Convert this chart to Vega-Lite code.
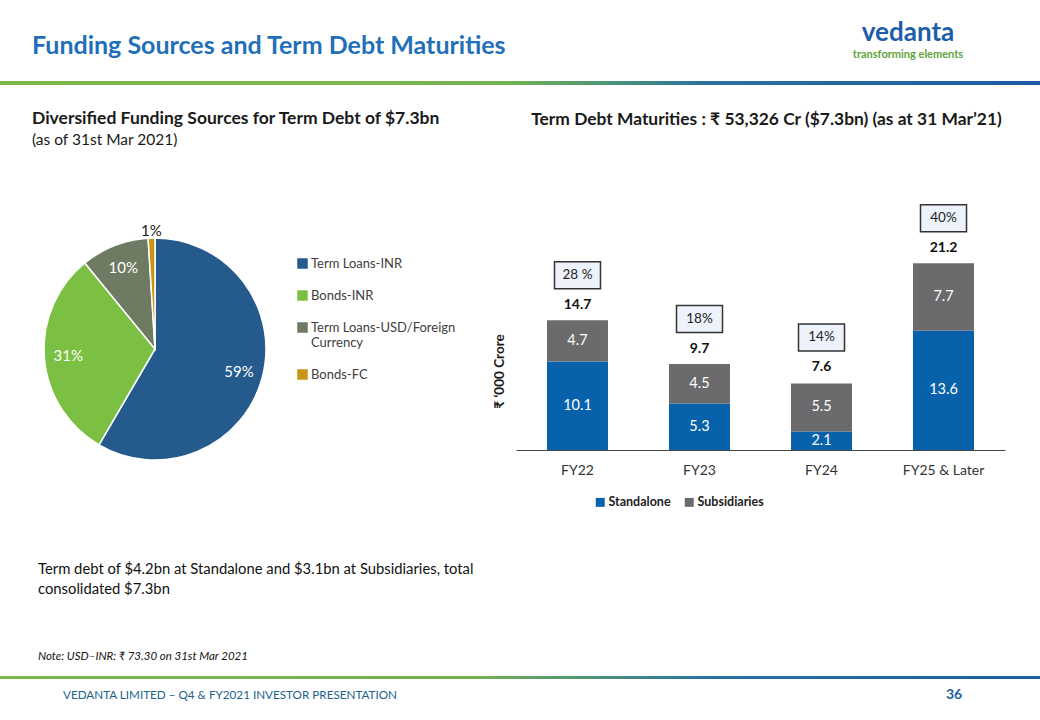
{
  "$schema": "https://vega.github.io/schema/vega-lite/v6.json",
  "background": "white",
  "padding": {"top": 20, "left": 0, "right": 0, "bottom": 0},
  "config": {
    "font": "Lato, 'Noto Sans', 'DejaVu Sans', sans-serif",
    "view": {"stroke": null},
    "title": {"font": "Lato, 'Noto Sans', 'DejaVu Sans', sans-serif"}
  },
  "spacing": 8,
  "resolve": {"scale": {"color": "independent"}, "legend": {"color": "independent"}},
  "vconcat": [
    {
      "spacing": 52,
      "resolve": {"scale": {"color": "independent"}, "legend": {"color": "independent"}},
      "vconcat": [
        {
          "spacing": 25,
          "resolve": {"scale": {"color": "independent"}, "legend": {"color": "independent"}},
          "vconcat": [
            {
              "hconcat": [
                {
                  "width": 760,
                  "height": 4,
                  "data": {"values": [{"k": 1}]},
                  "title": {"text": "Funding Sources and Term Debt Maturities", "anchor": "start", "dx": 32, "fontSize": 25, "fontWeight": "bold", "color": "#1f70b8", "offset": 22},
                  "mark": {"type": "rect", "fill": {"gradient": "linear", "x1": 0, "y1": 0, "x2": 1, "y2": 0, "stops": [{"offset": 0, "color": "#7cb94a"}, {"offset": 0.657, "color": "#76b450"}, {"offset": 0.794, "color": "#4f9775"}, {"offset": 0.93, "color": "#2b70a0"}, {"offset": 1, "color": "#286da0"}]}},
                  "encoding": {"x": {"value": 0}, "x2": {"value": "width"}, "y": {"value": 0}, "y2": {"value": "height"}}
                },
                {
                  "width": 280,
                  "height": 4,
                  "data": {"values": [{"k": 1}]},
                  "title": {"text": "vedanta", "subtitle": "transforming elements", "anchor": "middle", "dx": 8, "fontSize": 26, "fontWeight": "bold", "color": "#1d5ea6", "subtitleFontSize": 11, "subtitleFontWeight": "bold", "subtitleColor": "#5ea33a", "subtitlePadding": 3, "offset": 21},
                  "mark": {"type": "rect", "fill": {"gradient": "linear", "x1": 0, "y1": 0, "x2": 1, "y2": 0, "stops": [{"offset": 0, "color": "#286da0"}, {"offset": 1, "color": "#1b5ca2"}]}},
                  "encoding": {"x": {"value": 0}, "x2": {"value": "width"}, "y": {"value": 0}, "y2": {"value": "height"}}
                }
              ],
              "spacing": 0,
              "bounds": "flush"
            },
            {
              "resolve": {"scale": {"color": "independent"}, "legend": {"color": "independent"}},
              "hconcat": [
                {
                  "width": 310,
                  "height": 294,
                  "title": {"text": "Diversified Funding Sources for Term Debt of $7.3bn", "subtitle": "(as of 31st Mar 2021)", "anchor": "start", "dx": 32, "fontSize": 17.5, "fontWeight": "bold", "color": "#1a1a1a", "subtitleFontSize": 15.5, "subtitleColor": "#1a1a1a", "subtitlePadding": 5, "offset": 54},
                  "data": {"values": [
                    {"source": "Term Loans-INR", "pct": 59, "label": "59%"},
                    {"source": "Bonds-INR", "pct": 31, "label": "31%"},
                    {"source": "Term Loans-USD/Foreign Currency", "pct": 10, "label": "10%"},
                    {"source": "Bonds-FC", "pct": 1, "label": "1%"}
                  ]},
                  "encoding": {
                    "theta": {"field": "pct", "type": "quantitative", "stack": true},
                    "order": {"field": "pct", "sort": "descending"}
                  },
                  "layer": [
                    {
                      "mark": {"type": "arc", "outerRadius": 111, "stroke": "white", "strokeWidth": 1.5},
                      "encoding": {
                        "color": {
                          "field": "source", "type": "nominal",
                          "scale": {"domain": ["Term Loans-INR", "Bonds-INR", "Term Loans-USD/Foreign Currency", "Bonds-FC"], "range": ["#245a8c", "#7bc043", "#6e7a62", "#c99517"]},
                          "legend": {"orient": "none", "legendX": 296, "legendY": 55, "title": null, "symbolType": "square", "symbolSize": 110, "symbolStrokeWidth": 0, "labelFontSize": 13, "labelColor": "#404040", "rowPadding": 18, "labelOffset": 2, "padding": 0, "labelLimit": 220,
                            "labelExpr": "datum.label == 'Term Loans-USD/Foreign Currency' ? ['Term Loans-USD/Foreign', 'Currency'] : datum.label"}
                        }
                      }
                    },
                    {
                      "mark": {"type": "text", "radius": 87, "fontSize": 15, "fill": "white"},
                      "encoding": {
                        "text": {"field": "label"},
                        "opacity": {"condition": {"test": "datum.pct < 5", "value": 0}, "value": 1}
                      }
                    },
                    {
                      "mark": {"type": "text", "radius": 118, "fontSize": 15, "fill": "#1a1a1a"},
                      "encoding": {
                        "text": {"field": "label"},
                        "opacity": {"condition": {"test": "datum.pct < 5", "value": 1}, "value": 0}
                      }
                    }
                  ]
                },
                {
                  "width": 489,
                  "height": 248,
                  "title": {"text": "Term Debt Maturities : ₹ 53,326 Cr ($7.3bn) (as at 31 Mar’21)", "anchor": "middle", "dx": 6, "fontSize": 17.4, "fontWeight": "bold", "color": "#1a1a1a", "offset": 73},
                  "data": {"values": [
                    {"year": "FY22", "entity": "Standalone", "value": 10.1},
                    {"year": "FY22", "entity": "Subsidiaries", "value": 4.7},
                    {"year": "FY23", "entity": "Standalone", "value": 5.3},
                    {"year": "FY23", "entity": "Subsidiaries", "value": 4.5},
                    {"year": "FY24", "entity": "Standalone", "value": 2.1},
                    {"year": "FY24", "entity": "Subsidiaries", "value": 5.5},
                    {"year": "FY25 & Later", "entity": "Standalone", "value": 13.6},
                    {"year": "FY25 & Later", "entity": "Subsidiaries", "value": 7.7}
                  ]},
                  "encoding": {
                    "x": {"field": "year", "type": "nominal", "sort": null, "title": null,
                      "scale": {"paddingInner": 0.5, "paddingOuter": 0.254},
                      "axis": {"labelAngle": 0, "labelFontSize": 14, "labelColor": "#333", "ticks": false, "labelPadding": 13, "domainColor": "#444", "domainWidth": 1.2}}
                  },
                  "layer": [
                    {
                      "mark": {"type": "bar"},
                      "encoding": {
                        "y": {"field": "value", "type": "quantitative", "stack": "zero", "scale": {"domain": [0, 28.3], "nice": false}, "axis": {"title": "₹ ‘000 Crore", "labels": false, "ticks": false, "domain": false, "grid": false, "titleFontSize": 13.5, "titleFontWeight": "bold", "titleColor": "#1a1a1a", "titlePadding": 10, "titleY": 169}},
                        "color": {"field": "entity", "type": "nominal",
                          "scale": {"domain": ["Standalone", "Subsidiaries"], "range": ["#0862ab", "#6b6b6d"]},
                          "legend": {"orient": "none", "legendX": 78, "legendY": 294, "direction": "horizontal", "title": null, "symbolType": "square", "symbolSize": 80, "symbolStrokeWidth": 0, "labelFontSize": 12.5, "labelFontWeight": "bold", "labelColor": "#222", "columnPadding": 12, "labelOffset": 2, "padding": 0}},
                        "order": {"field": "entity", "sort": "ascending"}
                      }
                    },
                    {
                      "transform": [
                        {"stack": "value", "groupby": ["year"], "sort": [{"field": "entity", "order": "ascending"}], "as": ["v0", "v1"]},
                        {"calculate": "(datum.v0 + datum.v1) / 2", "as": "mid"}
                      ],
                      "mark": {"type": "text", "fontSize": 14.5, "fill": "white", "baseline": "middle"},
                      "encoding": {
                        "y": {"field": "mid", "type": "quantitative", "scale": {"domain": [0, 28.3], "nice": false}, "axis": {"title": "₹ ‘000 Crore", "labels": false, "ticks": false, "domain": false, "grid": false, "titleFontSize": 13.5, "titleFontWeight": "bold", "titleColor": "#1a1a1a", "titlePadding": 10, "titleY": 169}},
                        "text": {"field": "value", "type": "quantitative", "format": ".1f"}
                      }
                    },
                    {
                      "data": {"values": [
                        {"year": "FY22", "value": 14.7, "share": "28 %"},
                        {"year": "FY23", "value": 9.7, "share": "18%"},
                        {"year": "FY24", "value": 7.6, "share": "14%"},
                        {"year": "FY25 & Later", "value": 21.2, "share": "40%"}
                      ]},
                      "layer": [
                        {
                          "mark": {"type": "text", "fontSize": 14, "fontWeight": "bold", "fill": "#111", "baseline": "middle", "dy": -16},
                          "encoding": {
                            "y": {"field": "value", "type": "quantitative", "stack": null, "scale": {"domain": [0, 28.3], "nice": false}, "axis": {"title": "₹ ‘000 Crore", "labels": false, "ticks": false, "domain": false, "grid": false, "titleFontSize": 13.5, "titleFontWeight": "bold", "titleColor": "#1a1a1a", "titlePadding": 10, "titleY": 169}},
                            "text": {"field": "value", "type": "quantitative", "format": ".1f"}
                          }
                        },
                        {
                          "mark": {"type": "point", "shape": "M-1,-0.587L1,-0.587L1,0.587L-1,0.587Z", "size": 2116, "filled": true, "fill": "#eef2fb", "stroke": "#333", "strokeWidth": 1.5, "opacity": 1, "yOffset": -46},
                          "encoding": {
                            "y": {"field": "value", "type": "quantitative", "stack": null, "scale": {"domain": [0, 28.3], "nice": false}, "axis": {"title": "₹ ‘000 Crore", "labels": false, "ticks": false, "domain": false, "grid": false, "titleFontSize": 13.5, "titleFontWeight": "bold", "titleColor": "#1a1a1a", "titlePadding": 10, "titleY": 169}}
                          }
                        },
                        {
                          "mark": {"type": "text", "fontSize": 13.5, "fill": "#222", "baseline": "middle", "yOffset": -46},
                          "encoding": {
                            "y": {"field": "value", "type": "quantitative", "stack": null, "scale": {"domain": [0, 28.3], "nice": false}, "axis": {"title": "₹ ‘000 Crore", "labels": false, "ticks": false, "domain": false, "grid": false, "titleFontSize": 13.5, "titleFontWeight": "bold", "titleColor": "#1a1a1a", "titlePadding": 10, "titleY": 169}},
                            "text": {"field": "share"}
                          }
                        }
                      ]
                    }
                  ]
                }
              ],
              "spacing": 206,
              "bounds": "flush"
            }
          ]
        },
        {
          "width": 1040,
          "height": 3,
          "data": {"values": [{"k": 1}]},
          "title": {"text": ["Term debt of $4.2bn at Standalone and $3.1bn at Subsidiaries, total", "consolidated $7.3bn"], "subtitle": "Note: USD–INR: ₹ 73.30 on 31st Mar 2021", "anchor": "start", "dx": 38, "fontSize": 14.8, "fontWeight": "normal", "lineHeight": 20, "color": "#111", "subtitleFontSize": 11.5, "subtitleFontStyle": "italic", "subtitleColor": "#111", "subtitlePadding": 54, "offset": 14},
          "mark": {"type": "rect", "fill": {"gradient": "linear", "x1": 0, "y1": 0, "x2": 1, "y2": 0, "stops": [{"offset": 0, "color": "#7cb94a"}, {"offset": 0.46, "color": "#72b052"}, {"offset": 0.56, "color": "#4e9775"}, {"offset": 0.68, "color": "#2b70a0"}, {"offset": 1, "color": "#1b5ca2"}]}},
          "encoding": {"x": {"value": 0}, "x2": {"value": "width"}, "y": {"value": 0}, "y2": {"value": "height"}}
        }
      ]
    },
    {
      "hconcat": [
        {
          "width": 900,
          "height": 1,
          "data": {"values": [{"k": 1}]},
          "mark": {"type": "text"},
          "encoding": {"text": {"value": ""}},
          "title": {"text": "VEDANTA LIMITED – Q4 & FY2021 INVESTOR PRESENTATION", "anchor": "start", "dx": 63, "fontSize": 11.7, "fontWeight": "normal", "color": "#20638a", "offset": 0}
        },
        {
          "width": 140,
          "height": 1,
          "data": {"values": [{"k": 1}]},
          "mark": {"type": "text"},
          "encoding": {"text": {"value": ""}},
          "title": {"text": "36", "anchor": "start", "dx": 46, "fontSize": 14, "fontWeight": "bold", "color": "#1d5fa0", "offset": 0}
        }
      ],
      "spacing": 0,
      "bounds": "flush"
    }
  ]
}
